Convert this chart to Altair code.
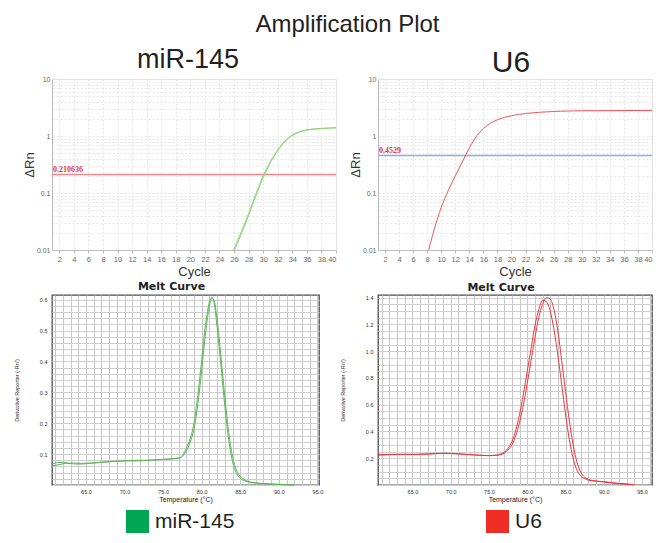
import altair as alt
import pandas as pd

FONT = "Liberation Sans"

# ---------------- Amplification plot data ----------------
mir_cycles = [25, 26, 27, 28, 29, 30, 31, 32, 33, 34, 35, 36, 37, 38, 39, 40]
mir_rep1 = [0.0048, 0.0105, 0.021, 0.044, 0.097, 0.20, 0.36, 0.57, 0.82, 1.04, 1.19, 1.28, 1.33, 1.36, 1.38, 1.40]
mir_rep2 = [0.0044, 0.0095, 0.019, 0.040, 0.089, 0.185, 0.34, 0.55, 0.80, 1.02, 1.18, 1.27, 1.32, 1.35, 1.37, 1.39]
mir_threshold = 0.210636

u6_cycles = [8, 9, 10, 11, 12, 13, 14, 15, 16, 17, 18, 19, 20, 21, 22, 23, 24,
             25, 26, 27, 28, 29, 30, 31, 32, 33, 34, 35, 36, 37, 38, 39, 40]
u6_rep1 = [0.0078, 0.023, 0.056, 0.11, 0.20, 0.35, 0.62, 0.98, 1.35, 1.68, 1.93, 2.12, 2.27,
           2.39, 2.48, 2.55, 2.61, 2.65, 2.69, 2.72, 2.74, 2.76, 2.77, 2.78, 2.78, 2.79,
           2.79, 2.79, 2.80, 2.80, 2.80, 2.80, 2.80]
u6_threshold = 0.4529

cycle_ticks = [2, 4, 6, 8, 10, 12, 14, 16, 18, 20, 22, 24, 26, 28, 30, 32, 34, 36, 38, 40]
log_grid = [0.01, 0.02, 0.03, 0.04, 0.05, 0.06, 0.07, 0.08, 0.09,
            0.1, 0.2, 0.3, 0.4, 0.5, 0.6, 0.7, 0.8, 0.9,
            1, 2, 3, 4, 5, 6, 7, 8, 9, 10]

# ---------------- Melt curve data ----------------
mir_melt_temp = [60.7, 61.5, 62.5, 63.5, 64.5, 65.5, 66.5, 67.5, 68.5, 69.5, 70.5, 71.5, 72.5,
                 73.5, 74.5, 75.5, 76.5, 77.0, 77.5, 78.0, 78.5, 79.0, 79.5, 80.0, 80.5, 81.0,
                 81.3, 81.6, 82.0, 82.5, 83.0, 83.5, 84.0, 84.5, 85.0, 85.5, 86.0, 87.0, 88.0,
                 89.0, 90.0, 91.0, 92.0]
mir_melt_rep1 = [0.068, 0.073, 0.072, 0.068, 0.068, 0.070, 0.072, 0.074, 0.076, 0.077, 0.078,
                 0.078, 0.079, 0.080, 0.082, 0.084, 0.086, 0.088, 0.096, 0.118, 0.150, 0.200,
                 0.290, 0.405, 0.520, 0.592, 0.608, 0.590, 0.510, 0.385, 0.255, 0.145, 0.075,
                 0.038, 0.022, 0.014, 0.010, 0.006, 0.004, 0.003, 0.002, 0.001, 0.000]
mir_melt_rep2 = [0.062, 0.066, 0.070, 0.071, 0.070, 0.071, 0.073, 0.075, 0.077, 0.078, 0.079,
                 0.080, 0.080, 0.081, 0.082, 0.083, 0.085, 0.086, 0.092, 0.110, 0.138, 0.182,
                 0.262, 0.372, 0.492, 0.578, 0.605, 0.598, 0.535, 0.415, 0.285, 0.170, 0.092,
                 0.048, 0.028, 0.018, 0.012, 0.007, 0.005, 0.003, 0.002, 0.001, 0.000]

u6_melt_temp = [60.5, 61.0, 62.0, 63.0, 64.0, 65.0, 66.0, 67.0, 68.0, 69.0, 70.0, 71.0, 72.0,
                73.0, 74.0, 75.0, 76.0, 76.5, 77.0, 77.5, 78.0, 78.5, 79.0, 79.5, 80.0, 80.5,
                81.0, 81.5, 82.0, 82.5, 83.0, 83.5, 84.0, 84.5, 85.0, 85.5, 86.0, 86.5, 87.0,
                87.5, 88.0, 89.0, 90.0, 91.0, 92.0, 93.0, 94.0]
u6_melt_rep1 = [0.225, 0.226, 0.228, 0.229, 0.229, 0.228, 0.229, 0.231, 0.234, 0.236, 0.235,
                0.232, 0.228, 0.225, 0.221, 0.219, 0.221, 0.226, 0.238, 0.262, 0.300, 0.370,
                0.470, 0.600, 0.760, 0.930, 1.100, 1.250, 1.350, 1.400, 1.390, 1.310, 1.150,
                0.930, 0.700, 0.480, 0.300, 0.170, 0.095, 0.058, 0.042, 0.030, 0.025, 0.018,
                0.012, 0.007, 0.003]
u6_melt_rep2 = [0.224, 0.225, 0.227, 0.228, 0.229, 0.229, 0.230, 0.232, 0.235, 0.237, 0.236,
                0.233, 0.229, 0.225, 0.222, 0.220, 0.224, 0.232, 0.245, 0.275, 0.325, 0.410,
                0.530, 0.680, 0.850, 1.020, 1.190, 1.310, 1.380, 1.370, 1.300, 1.160, 0.970,
                0.750, 0.530, 0.340, 0.200, 0.110, 0.068, 0.048, 0.036, 0.028, 0.022, 0.016,
                0.010, 0.006, 0.002]

melt_grid_x = list(range(60, 97))


def amp_df(cycles, reps):
    rows = []
    for name, vals in reps.items():
        for c, v in zip(cycles, vals):
            rows.append({"cycle": c, "rn": v, "rep": name})
    return pd.DataFrame(rows)


def melt_df(temps, reps, gene):
    rows = []
    for name, vals in reps.items():
        for t, v in zip(temps, vals):
            rows.append({"temp": t, "d": v, "rep": name, "gene": gene})
    return pd.DataFrame(rows)


def amp_chart(df, threshold, title, title_size, title_dy, line_color, thr_color, width, height, title_dx):
    x_axis = alt.Axis(values=cycle_ticks, title="Cycle", titleFont=FONT, titleFontSize=13,
                      titleFontWeight="normal", titleColor="#333333", titlePadding=3,
                      labelFont=FONT, labelFontSize=7.5, labelColor="#666666", labelPadding=2,
                      tickSize=3, tickColor="#bbbbbb", domainColor="#bbbbbb",
                      gridColor="#e6e6e6", gridDash=[2, 2], labelOverlap=False)
    y_axis = alt.Axis(values=log_grid,
                      labelExpr="abs(log(datum.value)/LN10 - round(log(datum.value)/LN10)) < 0.01 ? format(datum.value, '~g') : ''",
                      title="ΔRn", titleFont=FONT, titleFontSize=13, titleFontWeight="normal",
                      titleColor="#333333", titlePadding=0,
                      labelFont=FONT, labelFontSize=7, labelColor="#666666", labelPadding=2,
                      ticks=False, domainColor="#bbbbbb",
                      gridColor="#e6e6e6", gridDash=[2, 2], labelOverlap=False)
    x_scale = alt.Scale(domain=[1, 40], nice=False, zero=False)
    y_scale = alt.Scale(type="log", domain=[0.01, 10], nice=False)
    x = alt.X("cycle:Q", scale=x_scale, axis=x_axis)
    y = alt.Y("rn:Q", scale=y_scale, axis=y_axis)
    curves = alt.Chart(df).mark_line(clip=True, strokeWidth=1, color=line_color,
                                     interpolate="monotone").encode(x=x, y=y, detail="rep:N")
    thr = pd.DataFrame({"cycle": [1], "rn": [threshold], "label": [str(threshold)]})
    rule = alt.Chart(thr).mark_rule(color=thr_color, strokeWidth=1.5).encode(y=y)
    label = alt.Chart(thr).mark_text(align="left", baseline="bottom", dx=1, dy=-1,
                                     font="Liberation Serif", fontWeight="bold", fontSize=8,
                                     color="#e8393a").encode(x=x, y=y, text="label:N")
    return alt.layer(rule, curves, label).properties(
        width=width, height=height,
        title=alt.TitleParams(title, font=FONT, fontSize=title_size, fontWeight="normal",
                              color="#231f20", offset=1, dx=title_dx, dy=title_dy,
                              anchor="middle"),
        view=alt.ViewBackground(stroke="#e0e0e0"))


def melt_chart(df, gene, line_color, legend_color, xdom, ydom, ygrid, label_expr,
               legend_x, legend_y, width, height):
    x = alt.X("temp:Q",
              scale=alt.Scale(domain=xdom, nice=False, zero=False),
              axis=alt.Axis(values=melt_grid_x,
                            labelExpr="datum.value % 5 == 0 ? format(datum.value, '.1f') : ''",
                            title="Temperature (°C)", titleFont=FONT, titleFontSize=7,
                            titleFontWeight="normal", titleColor="#222222", titlePadding=1,
                            labelFont=FONT, labelFontSize=5.5, labelColor="#333333",
                            labelPadding=4, ticks=False, domain=False, gridColor="#c6c6c6",
                            labelOverlap=False))
    y = alt.Y("d:Q",
              scale=alt.Scale(domain=ydom, nice=False, zero=False),
              axis=alt.Axis(values=ygrid, labelExpr=label_expr,
                            title="Derivative Reporter (-Rn')", titleFont=FONT, titleFontSize=5.5,
                            titleFontWeight="normal", titleColor="#333333", titlePadding=20,
                            labelFont=FONT, labelFontSize=5.5, labelColor="#333333",
                            labelPadding=5, ticks=False, domain=False, gridColor="#cfcfcf",
                            labelOverlap=False))
    lines = alt.Chart(df).mark_line(color=line_color, strokeWidth=1,
                                    interpolate="monotone").encode(x=x, y=y, detail="rep:N")
    key = alt.Chart(df).mark_square(opacity=0).encode(
        x=x, y=y,
        fill=alt.Fill("gene:N", scale=alt.Scale(domain=[gene], range=[legend_color]),
                      legend=alt.Legend(title=None, orient="none", legendX=legend_x,
                                        legendY=legend_y, symbolType="square", symbolSize=529,
                                        symbolStrokeWidth=0, symbolOpacity=1, labelFont=FONT,
                                        labelFontSize=21, labelColor="#231f20", labelOffset=6,
                                        padding=0)))
    return alt.layer(lines, key).properties(
        width=width, height=height,
        title=alt.TitleParams("Melt Curve", font="DejaVu Sans", fontSize=11, fontWeight="bold",
                              color="#222222", offset=2, dx=-14, anchor="middle"),
        view=alt.ViewBackground(stroke="#4d4d4d", strokeWidth=1.3))


amp_left = amp_chart(amp_df(mir_cycles, {"r1": mir_rep1, "r2": mir_rep2}), mir_threshold,
                     "miR-145", 27, 0, "#92d27a", "#f4878c", 284, 171, -6)
amp_right = amp_chart(amp_df(u6_cycles, {"r1": u6_rep1}), u6_threshold,
                      "U6", 30, 4, "#f2545b", "#7fb0e0", 274, 171, -4)

left_grid = [round(i * 0.02, 2) for i in range(0, 31)]
right_grid = [round(i * 0.05, 2) for i in range(0, 29)]
left_expr = "datum.value > 0.001 && abs(datum.value*10 - round(datum.value*10)) < 0.001 ? format(datum.value, '.1f') : ''"
right_expr = "datum.value > 0.001 && abs(datum.value*5 - round(datum.value*5)) < 0.001 ? format(datum.value, '.1f') : ''"

melt_left = melt_chart(melt_df(mir_melt_temp, {"r1": mir_melt_rep1, "r2": mir_melt_rep2}, "miR-145"),
                       "miR-145", "#5fb55a", "#00a651", [60.6, 95.2], [0, 0.615], left_grid,
                       left_expr, 74, 215, 267, 190)
melt_right = melt_chart(melt_df(u6_melt_temp, {"r1": u6_melt_rep1, "r2": u6_melt_rep2}, "U6"),
                        "U6", "#e8393f", "#ee2d24", [60.5, 96.3], [0, 1.42], right_grid,
                        right_expr, 108, 215, 274, 190)

chart = alt.concat(
    amp_left, amp_right, melt_left, melt_right,
    columns=2, spacing={"row": 45, "column": 42}, bounds="flush", align="each",
    title=alt.TitleParams("Amplification Plot", font=FONT, fontSize=24, fontWeight="normal",
                          color="#231f20", anchor="middle", offset=9, dx=14),
    padding={"left": 5, "top": 4, "right": 0, "bottom": 0},
).resolve_scale(fill="independent").resolve_legend(fill="independent").configure(font=FONT)

chart.save("out.html", embed_options={"renderer": "svg", "actions": False})
